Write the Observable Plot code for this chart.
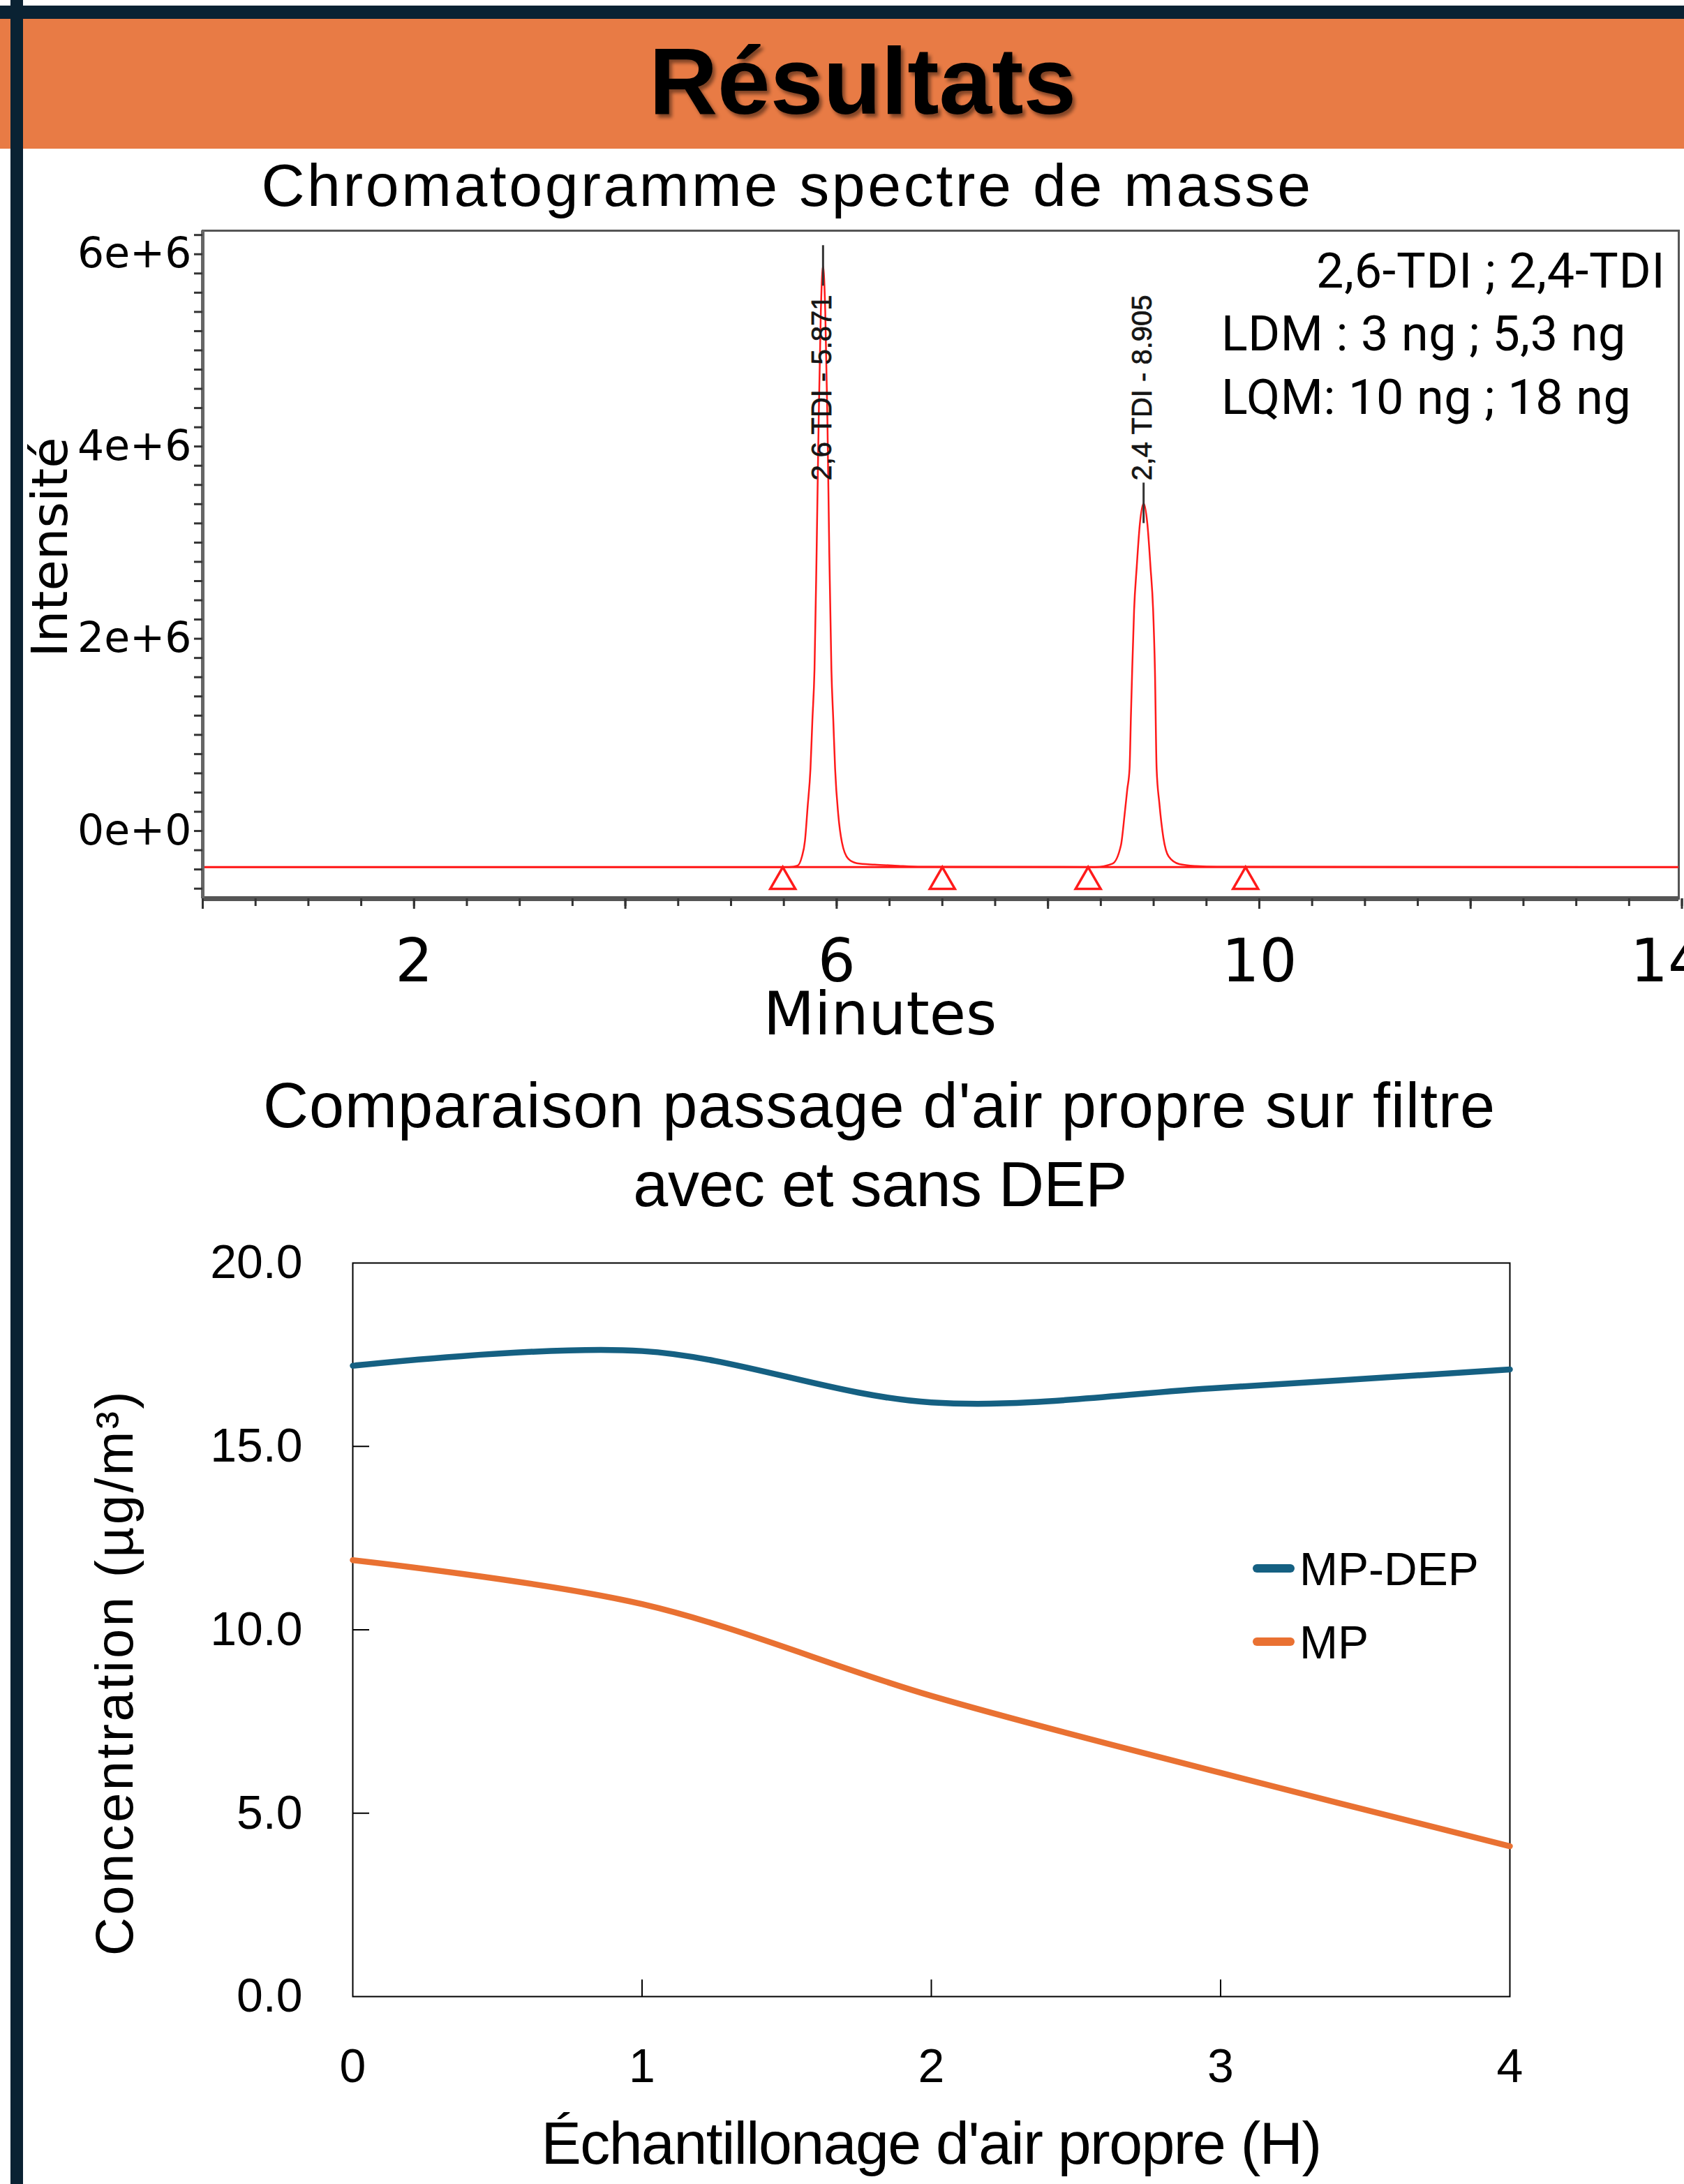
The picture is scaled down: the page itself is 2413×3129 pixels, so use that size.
<!DOCTYPE html>
<html>
<head>
<meta charset="utf-8">
<script src="https://cdn.jsdelivr.net/npm/d3@7"></script>
<script src="https://cdn.jsdelivr.net/npm/@observablehq/plot@0.6"></script>
<style>
  html, body { margin: 0; padding: 0; background: #ffffff; }
  body { width: 2413px; height: 3129px; position: relative; overflow: hidden; }
  .abs { position: absolute; }
  #title {
    left: 0; width: 2472px; top: 48px; text-align: center;
    font-family: "Liberation Sans", Arial, sans-serif; font-weight: bold;
    font-size: 136px; line-height: 1; color: #000;
    text-shadow: 4px 5px 5px rgba(0,0,0,0.45);
  }
</style>
</head>
<body>
<div class="abs" style="left:0;top:8px;width:2413px;height:19px;background:#0A2233"></div>
<div class="abs" style="left:0;top:27px;width:2413px;height:186px;background:#E87B45"></div>
<div class="abs" style="left:15px;top:0;width:18px;height:3129px;background:#0A2233"></div>
<div id="title" class="abs">Résultats</div>
<div id="chart1" class="abs" style="left:0;top:300px"></div>
<div id="chart2" class="abs" style="left:0;top:1760px"></div>

<script>
// ================= DATA =================
// Chromatogram trace (time in minutes, intensity in millions of counts)
const chromTime = [0, 5.55, 5.63, 5.67, 5.70, 5.725, 5.752, 5.77, 5.79, 5.81, 5.83, 5.85, 5.871, 5.892, 5.912, 5.93, 5.95, 5.968, 5.985, 6.015, 6.05, 6.11, 6.19, 6.36, 6.55, 6.8,
                   8.45, 8.61, 8.69, 8.725, 8.75, 8.772, 8.785, 8.797, 8.815, 8.84, 8.87, 8.905, 8.94, 8.97, 8.995, 9.012, 9.028, 9.054, 9.092, 9.142, 9.244, 9.4, 9.6, 14];
const chromIntensity = [-0.375, -0.375, -0.36, -0.27, -0.10, 0.25, 0.65, 1.15, 1.68, 2.9, 4.3, 5.4, 5.88, 5.4, 4.3, 2.9, 1.68, 1.15, 0.65, 0.17, -0.12, -0.29, -0.335, -0.35, -0.36, -0.372,
                        -0.375, -0.34, -0.15, 0.17, 0.43, 0.65, 1.2, 1.68, 2.3, 2.75, 3.2, 3.41, 3.2, 2.75, 2.3, 1.68, 0.65, 0.29, -0.07, -0.265, -0.345, -0.365, -0.372, -0.375];
const baselineIntensity = [-0.375];           // millions
const peakTime = [5.871, 8.905];
const peakApex = [5.88, 3.41];                // millions
const peakLabel = ["2,6 TDI - 5.871", "2,4 TDI - 8.905"];
const integrationMarks = [5.49, 7.0, 8.38, 9.87];
const yTickLabels1 = [0, 2e6, 4e6, 6e6];
const xTickLabels1 = [2, 6, 10];
const xEdgeTickLabel1 = [14];
const infoLines = ["2,6-TDI ; 2,4-TDI", "LDM : 3 ng ; 5,3 ng", "LQM: 10 ng ; 18 ng"];

// Comparison chart
const hours = [0, 1, 2, 3, 4];
const mpDep = [17.2, 17.6, 16.2, 16.6, 17.1];
const mp = [11.9, 10.7, 8.2, 6.1, 4.1];
const seriesNames = ["MP-DEP", "MP"];
const seriesColors = ["#156082", "#E97132"];
const yTicks2 = [0, 5, 10, 15, 20];
const xTicks2 = [0, 1, 2, 3, 4];
const innerYTicks2 = [5, 10, 15];
const innerXTicks2 = [1, 2, 3];

// ================= CHART 1 =================
const W = 2413;
const c1 = {height: 1220, ml: 290, mr: 8, mt: 30, mb: 233};
const trace = chromTime.map((t, i) => ({t, v: chromIntensity[i] * 1e6}));
const peaks = peakTime.map((t, i) => ({t, apex: peakApex[i] * 1e6, label: peakLabel[i]}));
const marksT = integrationMarks.map(t => ({t, v: baselineIntensity[0] * 1e6}));
const yMinor1 = d3.range(-6, 63, 2).map(d => d * 1e5);
const xMinor1 = d3.range(0, 29, 1).map(d => d / 2);
const xMajor1 = d3.range(0, 15, 2);

const plot1 = Plot.plot({
  width: W, height: c1.height,
  marginLeft: c1.ml, marginRight: c1.mr, marginTop: c1.mt, marginBottom: c1.mb,
  style: {fontFamily: "'DejaVu Sans', sans-serif", background: "transparent", overflow: "visible", color: "#000"},
  x: {domain: [0, 13.97], label: null},
  y: {domain: [-0.704e6, 6.245e6], label: null},
  marks: [
    Plot.frame({stroke: "#555", strokeWidth: 3}),
    Plot.ruleY(baselineIntensity.map(d => d * 1e6), {stroke: "#ff1a1a", strokeWidth: 3}),
    Plot.line(trace, {x: "t", y: "v", stroke: "#ff1a1a", strokeWidth: 2.5, curve: "monotone-x", clip: true}),
    Plot.dot(marksT, {x: "t", y: "v", symbol: "triangle", r: 13.4, stroke: "#ff1a1a", fill: "none", strokeWidth: 3.5, dy: 21}),
    Plot.ruleX(peaks, {x: "t", y1: "apex", y2: "apex", insetTop: -29, insetBottom: -29, stroke: "#333", strokeWidth: 3}),
    Plot.text(peaks, {x: "t", text: "label", frameAnchor: "top", dy: 358, dx: -17, rotate: -90, textAnchor: "start",
      fontSize: 40, fontFamily: "'Liberation Sans', Arial, sans-serif", fill: "#151515", stroke: "#151515", strokeWidth: 0.7}),
    // axis lines
    Plot.ruleY([-0.704e6], {stroke: "#555", strokeWidth: 7}),
    Plot.ruleX([0], {stroke: "#666", strokeWidth: 5}),
    // y ticks
    Plot.axisY({ticks: yMinor1, tickSize: 12, tickFormat: () => "", stroke: "#333", strokeWidth: 3}),
    Plot.axisY({ticks: yTickLabels1, tickSize: 0, tickPadding: 16, tickFormat: d => d3.format(".0e")(d), fontSize: 60, fill: "#000"}),
    // x ticks
    Plot.axisX({ticks: xMinor1, tickSize: 11, tickFormat: () => "", stroke: "#333", strokeWidth: 3}),
    Plot.axisX({ticks: xMajor1, tickSize: 15, tickFormat: () => "", stroke: "#333", strokeWidth: 3}),
    Plot.axisX({ticks: xTickLabels1, tickSize: 0, tickPadding: 58, tickFormat: d => String(d), fontSize: 85, fill: "#000"}),
    Plot.axisX({ticks: xEdgeTickLabel1, tickSize: 0, tickPadding: 58, tickFormat: d => String(d), fontSize: 85, fill: "#000", dx: -20})
  ]
});
document.getElementById("chart1").appendChild(plot1);

// ================= CHART 2 =================
const c2 = {height: 1369, ml: 505, mr: 250, mt: 49, mb: 269};
const frameW2 = W - c2.ml - c2.mr;
const frameH2 = c2.height - c2.mt - c2.mb;
const series = [];
hours.forEach((h, i) => {
  series.push({h, v: mpDep[i], s: seriesNames[0]});
});
hours.forEach((h, i) => {
  series.push({h, v: mp[i], s: seriesNames[1]});
});

const plot2 = Plot.plot({
  width: W, height: c2.height,
  marginLeft: c2.ml, marginRight: c2.mr, marginTop: c2.mt, marginBottom: c2.mb,
  style: {fontFamily: "'Liberation Sans', Arial, sans-serif", background: "transparent", overflow: "visible", color: "#000"},
  x: {domain: [0, 4], label: null},
  y: {domain: [0, 20], label: null},
  color: {domain: seriesNames, range: seriesColors},
  marks: [
    Plot.frame({stroke: "#000", strokeWidth: 2}),
    Plot.tickY(innerYTicks2, {y: d => d, insetRight: frameW2 - 24, stroke: "#000", strokeWidth: 2}),
    Plot.tickX(innerXTicks2, {x: d => d, insetTop: frameH2 - 24, stroke: "#000", strokeWidth: 2}),
    Plot.line(series, {x: "h", y: "v", z: "s", stroke: "s", strokeWidth: 8.5, curve: "catmull-rom", strokeLinecap: "round"}),
    Plot.axisY({ticks: yTicks2, tickSize: 0, tickPadding: 72, tickFormat: d3.format(".1f"), fontSize: 68, fill: "#000"}),
    Plot.axisX({ticks: xTicks2, tickSize: 0, tickPadding: 74, tickFormat: d3.format("d"), fontSize: 68, fill: "#000"})
  ]
});
document.getElementById("chart2").appendChild(plot2);

// ================= TEXT OVERLAY =================
const ov = d3.select("body").append("svg")
  .attr("width", W).attr("height", 3129)
  .style("position", "absolute").style("left", "0px").style("top", "0px")
  .style("pointer-events", "none");

function label(text, x, y, o) {
  const t = ov.append("text")
    .attr("text-anchor", o.anchor || "middle")
    .attr("font-family", o.family || "'Liberation Sans', Arial, sans-serif")
    .attr("font-size", o.size)
    .attr("fill", o.fill || "#000")
    .style("letter-spacing", (o.ls || 0) + "px")
    .attr("transform", `translate(${x},${y})` + (o.rotate ? ` rotate(${o.rotate})` : ""))
    .text(text);
  return t;
}

// Chart 1 texts
label("Chromatogramme spectre de masse", 1128, 295, {size: 86, ls: 3.6});
label("Intensité", 96, 784, {size: 72, family: "'DejaVu Sans', sans-serif", rotate: -90});
label("Minutes", 1261, 1482, {size: 85, family: "'DejaVu Sans', sans-serif"});
label(infoLines[0], 1886, 412, {size: 70, ls: 0.8, family: "Roboto, sans-serif", anchor: "start"});
label(infoLines[1], 1750, 502, {size: 70, ls: 0.6, family: "Roboto, sans-serif", anchor: "start"});
label(infoLines[2], 1750, 593, {size: 70, ls: 0.6, family: "Roboto, sans-serif", anchor: "start"});

// Chart 2 texts
label("Comparaison passage d'air propre sur filtre", 1260, 1615, {size: 90, ls: 1});
label("avec et sans DEP", 1261, 1728, {size: 90, ls: -0.5});
label("Concentration (µg/m³)", 190, 2396, {size: 76, ls: 3.4, rotate: -90});
label("Échantillonage d'air propre (H)", 1334, 3100, {size: 86, ls: -1.5});

// Legend
seriesNames.forEach((name, i) => {
  const y = [2247, 2352][i];
  ov.append("line").attr("x1", 1801).attr("x2", 1849).attr("y1", y).attr("y2", y)
    .attr("stroke", seriesColors[i]).attr("stroke-width", 12).attr("stroke-linecap", "round");
  label(name, 1862, y + 24, {size: 66, anchor: "start"});
});
</script>
</body>
</html>
